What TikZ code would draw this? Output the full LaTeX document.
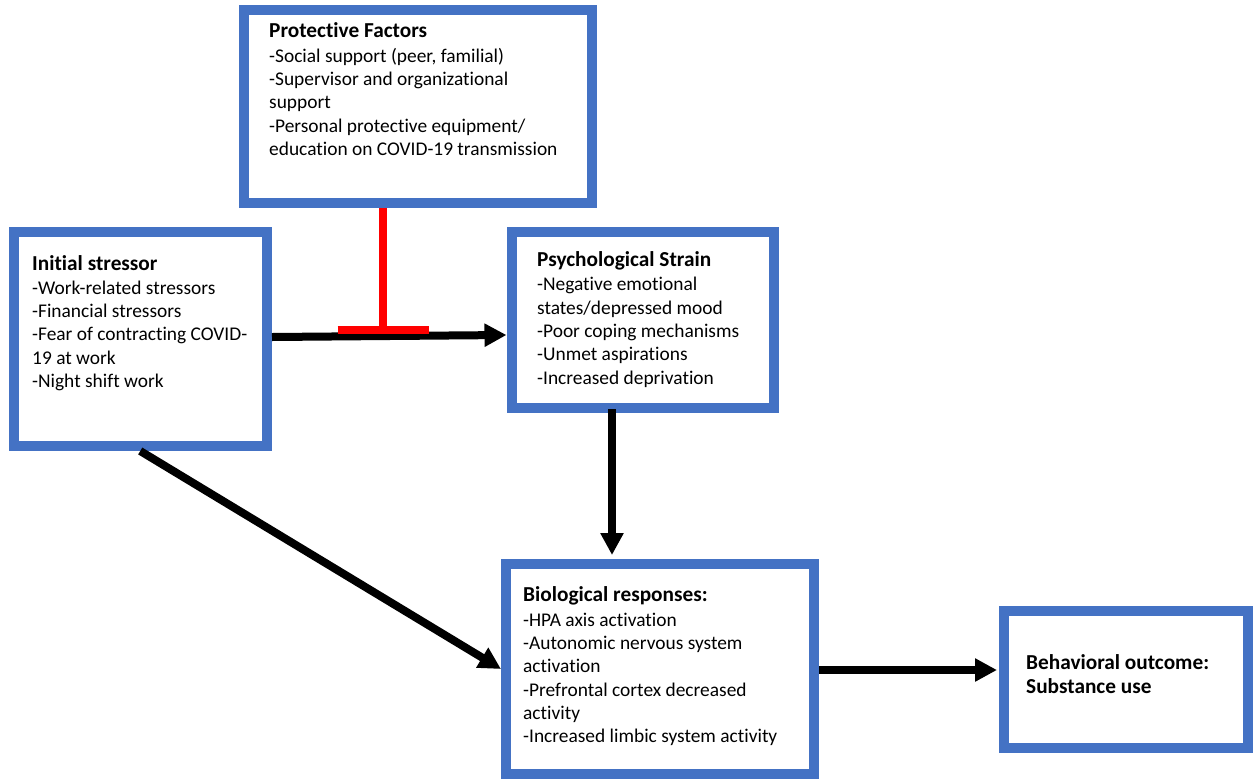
\documentclass[tikz,border=0pt]{standalone}
\usepackage{fontspec}
\setmainfont{Carlito}[Ligatures=NoCommon]
\usetikzlibrary{arrows.meta}
\definecolor{boxblue}{HTML}{4472C4}
\newcommand{\ttl}[1]{{\fontsize{21.3}{23.3}\selectfont\bfseries\rule{0pt}{17pt}#1}}
\begin{document}
\begin{tikzpicture}[x=1pt,y=-1pt,
  box/.style={draw=boxblue, line width=10pt, fill=white, inner sep=0pt, anchor=north west},
  txt/.style={anchor=north west, inner sep=0pt, align=left, font=\fontsize{19.4}{23.3}\selectfont},
  arr/.style={line width=8pt, -{Triangle[length=22pt,width=22pt]}},
  inhib/.style={draw=red, line width=8pt}]
\useasboundingbox (0,0) rectangle (1253,780);
\fill[white] (0,0) rectangle (1253,780);
% boxes (anchored at outer corner)
\node[box, minimum width=348pt, minimum height=193pt] (prot) at (239,5) {};
\node[box, minimum width=253.5pt, minimum height=214pt] (init) at (8.5,227) {};
\node[box, minimum width=262.5pt, minimum height=176pt] (psych) at (506.5,227) {};
\node[box, minimum width=308pt, minimum height=210pt] (bio) at (501,559) {};
\node[box, minimum width=244pt, minimum height=137pt] (behav) at (999,606) {};
% texts
\node[txt] (protT) at (269,20) {\ttl{Protective Factors}\\[1.7pt]-Social support (peer, familial)\\-Supervisor and organizational\\support\\-Personal protective equipment/\\education on COVID-19 transmission};
\node[txt] (initT) at (32,253) {\ttl{Initial stressor}\\[0.7pt]-Work-related stressors\\-Financial stressors\\-Fear of contracting COVID-\\19 at work\\-Night shift work};
\node[txt] (psychT) at (537,249) {\ttl{Psychological Strain}\\[1.4pt]-Negative emotional\\states/depressed mood\\-Poor coping mechanisms\\-Unmet aspirations\\-Increased deprivation};
\node[txt] (bioT) at (523,584) {\ttl{Biological responses:}\\[1.7pt]-HPA axis activation\\-Autonomic nervous system\\activation\\-Prefrontal cortex decreased\\activity\\-Increased limbic system activity};
\node[txt] (behavT) at (1026,652) {\ttl{Behavioral outcome:}\\[0.7pt]\ttl{Substance use}};
% connectors
\coordinate (tjoin) at (383,330);
\draw[arr] ([yshift=2pt]init.east) -- ([yshift=-15pt]psych.west);
\draw[inhib] ([xshift=-35pt]prot.south) -- (tjoin);
\draw[inhib] ([xshift=-45.5pt]tjoin) -- ([xshift=45.5pt]tjoin);
\draw[arr] ([xshift=-30.75pt,yshift=4pt]psych.south) -- ([xshift=-48pt,yshift=4pt]bio.north);
\draw[arr] (init.south) -- (bio.west);
\draw[arr] ([yshift=-1pt]bio.east) -- ([xshift=-2pt,yshift=9.5pt]behav.west);
\end{tikzpicture}
\end{document}
